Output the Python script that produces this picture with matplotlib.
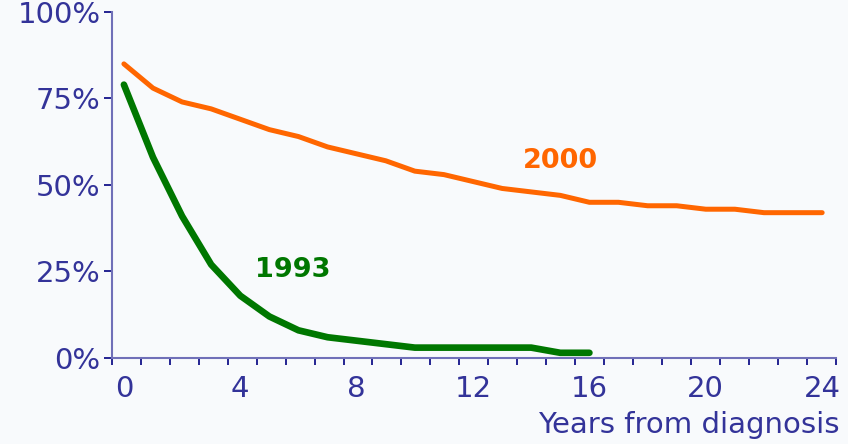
import matplotlib.pyplot as plt
import numpy as np

# survival after diagnosis
years_2000 = list(range(0, 25))
surv_2000 = [85, 78, 74, 72, 69, 66, 64, 61, 59, 57, 54, 53, 51, 49, 48, 47,
             45, 45, 44, 44, 43, 43, 42, 42, 42]
years_1993 = list(range(0, 17))
surv_1993 = [79, 58, 41, 27, 18, 12, 8, 6, 5, 4, 3, 3, 3, 3, 3, 1.5, 1.5]

xticks = [0, 4, 8, 12, 16, 20, 24]
yticks = [0, 25, 50, 75, 100]
ytick_labels = ['0%', '25%', '50%', '75%', '100%']

text_col = '#333399'
axis_col = '#7070B8'
bg = '#F8FAFC'

fig = plt.figure(figsize=(8.48, 4.44), dpi=100, facecolor=bg)
ax = fig.add_axes([0.1317, 0.1937, 0.9860 - 0.1317, 0.973 - 0.1937])
ax.set_facecolor(bg)

ax.plot(years_2000, surv_2000, color='#FF6600', lw=3.6, solid_capstyle='round',
        solid_joinstyle='round')
ax.plot(years_1993, surv_1993, color='#007700', lw=4.8, solid_capstyle='round',
        solid_joinstyle='round')

ax.text(15, 57, '2000', color='#FF6600', fontsize=19.5, fontweight='bold',
        ha='center', va='center')
ax.text(5.8, 25.5, '1993', color='#007700', fontsize=19.5, fontweight='bold',
        ha='center', va='center')

x0 = -0.42
ax.set_xlim(x0, 24.48)
ax.set_ylim(0, 100)

for s in ['top', 'right']:
    ax.spines[s].set_visible(False)
for s in ['left', 'bottom']:
    ax.spines[s].set_color(axis_col)
    ax.spines[s].set_linewidth(1.5)

ax.set_yticks(yticks)
ax.set_yticklabels(ytick_labels)
ax.tick_params(axis='y', length=6, width=1.2, color='#000080',
               labelcolor=text_col, labelsize=21, pad=2)

ax.set_xticks(xticks)
ax.tick_params(axis='x', which='major', length=0, labelcolor=text_col,
               labelsize=21, pad=12)
ax.set_xticks(np.arange(x0, 24.6, 0.996), minor=True)
ax.tick_params(axis='x', which='minor', length=5, width=1.2, color='#000080')

fig.text(0.990, 0.042, 'Years from diagnosis', color=text_col, fontsize=21,
         ha='right', va='center')

fig.savefig('out.png', dpi=100, facecolor=bg)
